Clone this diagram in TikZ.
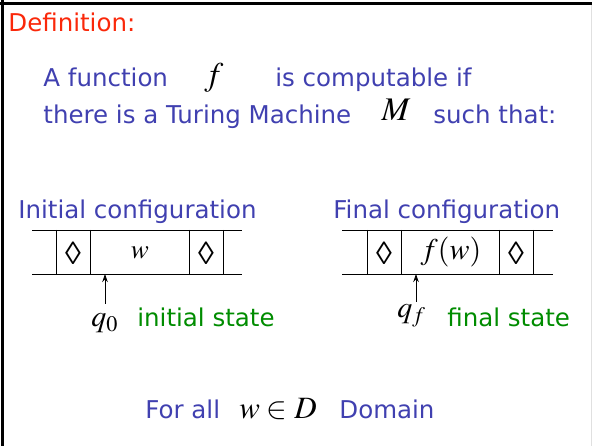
\documentclass[tikz,border=0pt]{standalone}
\usepackage{mathptmx}
\usepackage{fontspec}
\setmainfont{DejaVu Sans}
\newfontfamily\lozfont{Liberation Serif}
\usetikzlibrary{arrows.meta}

\definecolor{defred}{RGB}{250,40,10}
\definecolor{txtblue}{RGB}{64,64,176}
\definecolor{stgreen}{RGB}{0,140,0}

\tikzset{
    txt/.style={anchor=base west, inner sep=0pt, font=\fontsize{24.5}{28}\selectfont},
    mth/.style={anchor=base, inner sep=0pt},
    loz/.style={inner sep=0pt, font=\lozfont\fontsize{32}{34}\selectfont},
    head/.style={-{Stealth[length=8pt,width=5.5pt]}, line width=0.8pt},
}

\begin{document}
\begin{tikzpicture}[x=1pt, y=-1pt, line width=0.8pt]
        \useasboundingbox (0,0) rectangle (592,446);
        \draw[line width=3pt] (0,4) -- (592,4);
        \draw[line width=3pt] (2,0) -- (2,446);
        \draw[black!12, line width=1pt] (591,5) -- (591,446);

        \node[txt, defred] at (8,32) (def) {Definition:};
        \node[txt, txtblue] at (43,87) (func) {A function};
        \node[mth, font=\fontsize{33}{36}\selectfont] at (214,86) (f) {$f$};
        \node[txt, txtblue] at (275,87) (comp) {is computable if};
        \node[txt, txtblue] at (43,124) (there) {there is a Turing Machine};
        \node[mth, font=\fontsize{33}{36}\selectfont] at (396,121) (M) {$M$};
        \node[txt, txtblue] at (433,124) (such) {such that:};

        % initial configuration
        \node[txt, txtblue] at (18,219) (initc) {Initial configuration};
        \draw (32,230) -- (242,230);
        \draw (32,274) -- (242,274);
        \draw (56,230) -- (56,274);
        \draw (90,230) -- (90,274);
        \draw (189,230) -- (189,274);
        \draw (223,230) -- (223,274);
        \node[loz] at (73,253) (lozL1) {◊};
        \node[mth, font=\fontsize{27}{29}\selectfont] at (140,259) (w) {$w$};
        \node[loz] at (206,253) (lozL2) {◊};
        \coordinate (headL) at (105,274);
        \node[anchor=base west, inner sep=0pt, font=\fontsize{30}{32}\selectfont] at (91,327) (q0) {$q_0$};
        \node[txt, stgreen] at (137,327) (initst) {initial state};
        \draw[head, shorten <=10pt] (q0.north -| headL) -- (headL);

        % final configuration
        \node[txt, txtblue] at (333,219) (finc) {Final configuration};
        \draw (342,230) -- (553,230);
        \draw (342,274) -- (553,274);
        \draw (367,230) -- (367,274);
        \draw (401,230) -- (401,274);
        \draw (499,230) -- (499,274);
        \draw (533,230) -- (533,274);
        \node[loz] at (384,253) (lozR1) {◊};
        \node[mth, font=\fontsize{30}{32}\selectfont] at (451,260) (fw) {$f(w)$};
        \node[loz] at (516,253) (lozR2) {◊};
        \coordinate (headR) at (416,274);
        \node[anchor=base west, inner sep=0pt, font=\fontsize{30}{32}\selectfont] at (397,318) (qf) {$q_f$};
        \node[txt, stgreen] at (447,327) (finst) {final state};
        \draw[head, shorten <=1pt] (qf.north -| headR) ++(0,-2) -- (headR);

        % domain
        \node[txt, txtblue] at (145,418) (forall) {For all};
        \node[mth, font=\fontsize{31}{34}\selectfont] at (278,418) (wD) {$w\in D$};
        \node[txt, txtblue] at (339,418) (dom) {Domain};
    \end{tikzpicture}
\end{document}
